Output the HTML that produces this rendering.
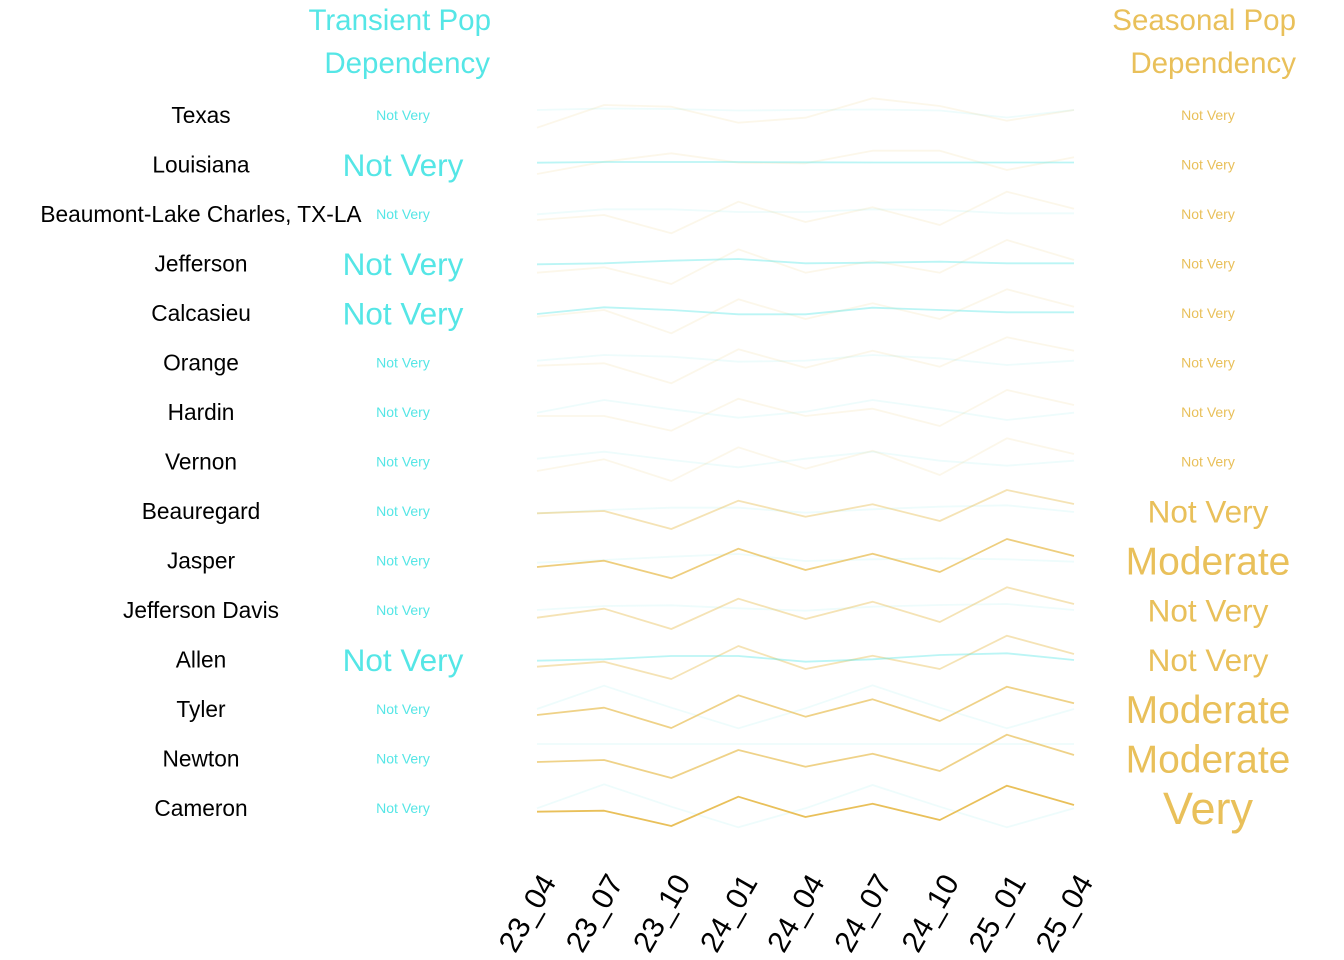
<!DOCTYPE html>
<html>
<head>
<meta charset="utf-8">
<style>
html,body{margin:0;padding:0;background:#fff;}
svg{display:block;}
text{font-family:"Liberation Sans",Arial,sans-serif;}
</style>
</head>
<body>
<svg width="1344" height="960" viewBox="0 0 1344 960" xmlns="http://www.w3.org/2000/svg">
<rect width="1344" height="960" fill="#fff"/>

<!-- Headers -->
<g font-size="29.5">
<text x="491" y="30" text-anchor="end" fill="#55E6E6">Transient Pop</text>
<text x="490" y="73" text-anchor="end" fill="#55E6E6">Dependency</text>
<text x="1296" y="30" text-anchor="end" fill="#E9C05A">Seasonal Pop</text>
<text x="1296" y="73" text-anchor="end" fill="#E9C05A">Dependency</text>
</g>

<!-- Left labels -->
<g font-size="22.7" fill="#000" text-anchor="middle">
<text x="201" y="123">Texas</text>
<text x="201" y="172.5">Louisiana</text>
<text x="201" y="222">Beaumont-Lake Charles, TX-LA</text>
<text x="201" y="271.5">Jefferson</text>
<text x="201" y="321">Calcasieu</text>
<text x="201" y="370.5">Orange</text>
<text x="201" y="420">Hardin</text>
<text x="201" y="469.5">Vernon</text>
<text x="201" y="519">Beauregard</text>
<text x="201" y="568.5">Jasper</text>
<text x="201" y="618">Jefferson Davis</text>
<text x="201" y="667.5">Allen</text>
<text x="201" y="717">Tyler</text>
<text x="201" y="766.5">Newton</text>
<text x="201" y="816">Cameron</text>
</g>

<!-- Transient labels -->
<g fill="#55E6E6" text-anchor="middle">
<text x="403" y="120" font-size="14">Not Very</text>
<text x="403" y="175.8" font-size="31.5">Not Very</text>
<text x="403" y="219" font-size="14">Not Very</text>
<text x="403" y="274.8" font-size="31.5">Not Very</text>
<text x="403" y="324.3" font-size="31.5">Not Very</text>
<text x="403" y="367.5" font-size="14">Not Very</text>
<text x="403" y="417" font-size="14">Not Very</text>
<text x="403" y="466.5" font-size="14">Not Very</text>
<text x="403" y="516" font-size="14">Not Very</text>
<text x="403" y="565.5" font-size="14">Not Very</text>
<text x="403" y="615" font-size="14">Not Very</text>
<text x="403" y="670.8" font-size="31.5">Not Very</text>
<text x="403" y="714" font-size="14">Not Very</text>
<text x="403" y="763.5" font-size="14">Not Very</text>
<text x="403" y="813" font-size="14">Not Very</text>
</g>

<!-- Seasonal labels -->
<g fill="#E9C05A" text-anchor="middle">
<text x="1208" y="120" font-size="14">Not Very</text>
<text x="1208" y="169.5" font-size="14">Not Very</text>
<text x="1208" y="219" font-size="14">Not Very</text>
<text x="1208" y="268.5" font-size="14">Not Very</text>
<text x="1208" y="318" font-size="14">Not Very</text>
<text x="1208" y="367.5" font-size="14">Not Very</text>
<text x="1208" y="417" font-size="14">Not Very</text>
<text x="1208" y="466.5" font-size="14">Not Very</text>
<text x="1208" y="522.3" font-size="31.5">Not Very</text>
<text x="1208" y="574.4" font-size="39">Moderate</text>
<text x="1208" y="621.3" font-size="31.5">Not Very</text>
<text x="1208" y="670.8" font-size="31.5">Not Very</text>
<text x="1208" y="723" font-size="39">Moderate</text>
<text x="1208" y="772.4" font-size="39">Moderate</text>
<text x="1208" y="824" font-size="45">Very</text>
</g>

<!-- Lines -->
<g fill="none" stroke-width="1.8" stroke-linejoin="round">
<!-- Texas -->
<polyline stroke="#55E6E6" stroke-opacity="0.1" points="537,110 604.1,108.5 671.3,109 738.4,110.5 805.5,110 872.6,109.5 939.8,110.5 1006.9,117.5 1074,110"/>
<polyline stroke="#E9C05A" stroke-opacity="0.13" points="537,127.7 604.1,105 671.3,106.7 738.4,122.7 805.5,117.7 872.6,98.3 939.8,106 1006.9,120.7 1074,110"/>
<!-- Louisiana -->
<polyline stroke="#E9C05A" stroke-opacity="0.13" points="537,174 604.1,161.7 671.3,153.3 738.4,162.7 805.5,163.3 872.6,150.7 939.8,150.7 1006.9,170 1074,157.3"/>
<polyline stroke="#55E6E6" stroke-opacity="0.4" points="537,162.7 604.1,162 671.3,162 738.4,162 805.5,162.3 872.6,162.5 939.8,162.5 1006.9,162.5 1074,162.5"/>
<!-- Beaumont -->
<polyline stroke="#55E6E6" stroke-opacity="0.1" points="537,214.3 604.1,209.3 671.3,209.3 738.4,212 805.5,212 872.6,209.3 939.8,210 1006.9,213.3 1074,213.3"/>
<polyline stroke="#E9C05A" stroke-opacity="0.13" points="537,220 604.1,215 671.3,233.3 738.4,201.7 805.5,222 872.6,207.3 939.8,225 1006.9,191.7 1074,208.7"/>
<!-- Jefferson -->
<polyline stroke="#E9C05A" stroke-opacity="0.13" points="537,272.7 604.1,267.3 671.3,284 738.4,249.3 805.5,272.7 872.6,261 939.8,272.7 1006.9,240 1074,260"/>
<polyline stroke="#55E6E6" stroke-opacity="0.4" points="537,264.3 604.1,263.3 671.3,260.7 738.4,259 805.5,263.3 872.6,262.7 939.8,261.7 1006.9,263.3 1074,263.3"/>
<!-- Calcasieu -->
<polyline stroke="#E9C05A" stroke-opacity="0.13" points="537,316.7 604.1,310 671.3,333.3 738.4,299.3 805.5,319 872.6,303.3 939.8,319 1006.9,289.3 1074,306.7"/>
<polyline stroke="#55E6E6" stroke-opacity="0.4" points="537,314 604.1,307.3 671.3,310 738.4,314.3 805.5,314.3 872.6,307.7 939.8,310 1006.9,312.3 1074,312.3"/>
<!-- Orange -->
<polyline stroke="#55E6E6" stroke-opacity="0.1" points="537,360.7 604.1,355 671.3,356.7 738.4,361.7 805.5,360.7 872.6,355 939.8,358.3 1006.9,365 1074,360.7"/>
<polyline stroke="#E9C05A" stroke-opacity="0.13" points="537,365.7 604.1,363.3 671.3,383.3 738.4,349.3 805.5,367.7 872.6,350.7 939.8,366.7 1006.9,337.3 1074,350.7"/>
<!-- Hardin -->
<polyline stroke="#55E6E6" stroke-opacity="0.1" points="537,412.7 604.1,400 671.3,409.3 738.4,417.7 805.5,411.7 872.6,400 939.8,409.3 1006.9,420 1074,412.7"/>
<polyline stroke="#E9C05A" stroke-opacity="0.13" points="537,416 604.1,416 671.3,430.7 738.4,398.7 805.5,416 872.6,408.7 939.8,426 1006.9,390 1074,405"/>
<!-- Vernon -->
<polyline stroke="#55E6E6" stroke-opacity="0.1" points="537,458.7 604.1,451.7 671.3,460 738.4,467.3 805.5,458.7 872.6,451.7 939.8,460.7 1006.9,465.7 1074,460.7"/>
<polyline stroke="#E9C05A" stroke-opacity="0.13" points="537,471 604.1,459.3 671.3,481 738.4,447.3 805.5,468.7 872.6,450.7 939.8,475 1006.9,438.3 1074,454"/>
<!-- Beauregard -->
<polyline stroke="#55E6E6" stroke-opacity="0.1" points="537,513.3 604.1,510 671.3,507.7 738.4,507.7 805.5,512.7 872.6,509.3 939.8,506.7 1006.9,505.3 1074,512"/>
<polyline stroke="#E9C05A" stroke-opacity="0.45" points="537,513.3 604.1,511 671.3,529 738.4,500.7 805.5,516.7 872.6,504.3 939.8,521 1006.9,490 1074,504"/>
<!-- Jasper -->
<polyline stroke="#55E6E6" stroke-opacity="0.1" points="537,562.7 604.1,560 671.3,556.7 738.4,554 805.5,561 872.6,559.3 939.8,558.3 1006.9,559.3 1074,561.7"/>
<polyline stroke="#E9C05A" stroke-opacity="0.78" points="537,567 604.1,560.7 671.3,578.3 738.4,548.7 805.5,570 872.6,553.7 939.8,572 1006.9,539 1074,556"/>
<!-- Jefferson Davis -->
<polyline stroke="#55E6E6" stroke-opacity="0.1" points="537,610 604.1,606 671.3,605.3 738.4,608.3 805.5,610.7 872.6,606.7 939.8,605 1006.9,604 1074,610"/>
<polyline stroke="#E9C05A" stroke-opacity="0.45" points="537,617.7 604.1,608.7 671.3,629 738.4,598.7 805.5,619 872.6,601.7 939.8,622 1006.9,587.3 1074,604"/>
<!-- Allen -->
<polyline stroke="#E9C05A" stroke-opacity="0.45" points="537,666.7 604.1,661.7 671.3,679 738.4,646 805.5,669 872.6,655.7 939.8,669 1006.9,635.7 1074,654"/>
<polyline stroke="#55E6E6" stroke-opacity="0.4" points="537,660.7 604.1,659.3 671.3,656 738.4,656 805.5,661.7 872.6,659.3 939.8,655 1006.9,653.3 1074,660"/>
<!-- Tyler -->
<polyline stroke="#55E6E6" stroke-opacity="0.1" points="537,709 604.1,685.7 671.3,707.7 738.4,728.3 805.5,708.3 872.6,685.3 939.8,707.7 1006.9,728.3 1074,709"/>
<polyline stroke="#E9C05A" stroke-opacity="0.72" points="537,715 604.1,707.7 671.3,728 738.4,695.3 805.5,716.7 872.6,699.3 939.8,721 1006.9,686.7 1074,703.3"/>
<!-- Newton -->
<polyline stroke="#55E6E6" stroke-opacity="0.1" points="537,744 1074,744"/>
<polyline stroke="#E9C05A" stroke-opacity="0.72" points="537,762 604.1,760 671.3,778 738.4,750 805.5,766.7 872.6,753.7 939.8,771 1006.9,734.7 1074,755"/>
<!-- Cameron -->
<polyline stroke="#55E6E6" stroke-opacity="0.1" points="537,808.3 604.1,784.3 671.3,806.7 738.4,827.3 805.5,808.3 872.6,785 939.8,806.7 1006.9,827.3 1074,808.3"/>
<polyline stroke="#E9C05A" stroke-opacity="1" points="537,811.7 604.1,810.7 671.3,826 738.4,796.7 805.5,817 872.6,803.7 939.8,820 1006.9,785.7 1074,805"/>
</g>

<!-- X axis labels -->
<g font-size="30" fill="#000" text-anchor="end">
<text transform="translate(557,882) rotate(-60)">23_04</text>
<text transform="translate(624.1,882) rotate(-60)">23_07</text>
<text transform="translate(691.3,882) rotate(-60)">23_10</text>
<text transform="translate(758.4,882) rotate(-60)">24_01</text>
<text transform="translate(825.5,882) rotate(-60)">24_04</text>
<text transform="translate(892.6,882) rotate(-60)">24_07</text>
<text transform="translate(959.8,882) rotate(-60)">24_10</text>
<text transform="translate(1026.9,882) rotate(-60)">25_01</text>
<text transform="translate(1094,882) rotate(-60)">25_04</text>
</g>
</svg>
</body>
</html>
